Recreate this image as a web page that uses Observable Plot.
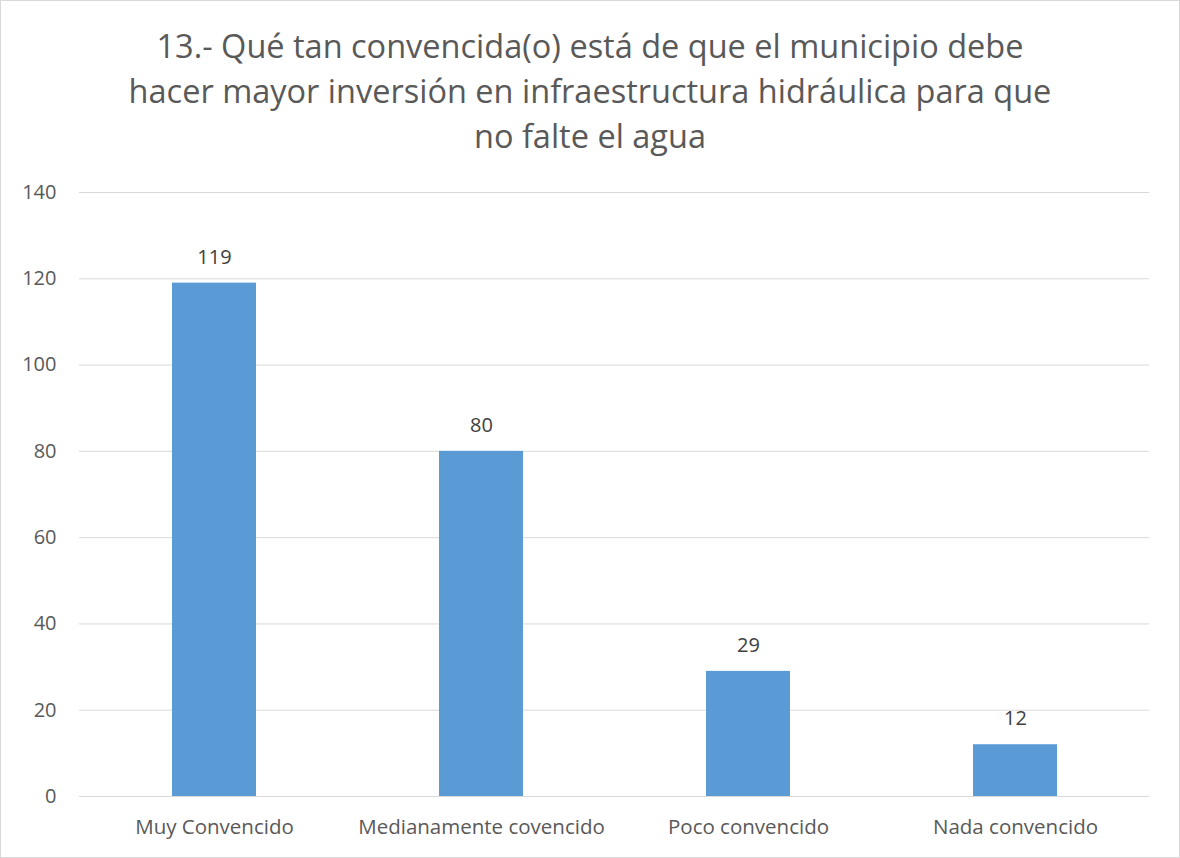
<!DOCTYPE html>
<html>
<head>
<meta charset="utf-8">
<script src="https://cdn.jsdelivr.net/npm/d3@7"></script>
<script src="https://cdn.jsdelivr.net/npm/@observablehq/plot@0.6"></script>
<style>
  body { margin: 0; background: #fff; }
  #wrap { width: 1180px; height: 858px; box-sizing: border-box; border: 1px solid #D9D9D9; background: #fff; position: relative; overflow: hidden; }
  #title { height: 169px; box-sizing: border-box; padding-top: 22px; text-align: center; font-family: "Open Sans", "Noto Sans", sans-serif; font-size: 32.5px; line-height: 45px; color: #595959; white-space: nowrap; }
  svg { display: block; }
</style>
</head>
<body>
<div id="wrap">
  <div id="title">13.- Qué tan convencida(o) está de que el municipio debe<br>hacer mayor inversión en infraestructura hidráulica para que<br>no falte el agua</div>
  <div id="chart"></div>
</div>
<script>
const categories = ["Muy Convencido", "Medianamente covencido", "Poco convencido", "Nada convencido"];
const values = [119, 80, 29, 12];
const yTicks = [0, 20, 40, 60, 80, 100, 120, 140];

const data = categories.map((c, i) => ({category: c, value: values[i]}));
const font = "'Open Sans', 'Noto Sans', sans-serif";

const chart = Plot.plot({
  width: 1178,
  height: 688,
  marginTop: 22,
  marginBottom: 62,
  marginLeft: 78,
  marginRight: 30,
  style: {fontFamily: font, fontSize: "20px", color: "#595959", background: "#fff"},
  x: {domain: categories, paddingInner: 0.686, paddingOuter: 0.343, label: null},
  y: {domain: [0, 140], label: null},
  marks: [
    Plot.gridY(yTicks, {stroke: "#D9D9D9", strokeOpacity: 1}),
    Plot.barY(data, {x: "category", y: "value", fill: "#5B9BD5"}),
    Plot.ruleY([0], {stroke: "#D9D9D9"}),
    Plot.text(data, {x: "category", y: "value", text: d => String(d.value), dy: -26, fill: "#404040", fontSize: 20}),
    Plot.axisX({tickSize: 0, tickPadding: 23, fontSize: 20.5, color: "#595959"}),
    Plot.axisY({ticks: yTicks, tickSize: 0, tickPadding: 23, fontSize: 20, color: "#595959"})
  ]
});
document.getElementById("chart").appendChild(chart);
</script>
</body>
</html>
